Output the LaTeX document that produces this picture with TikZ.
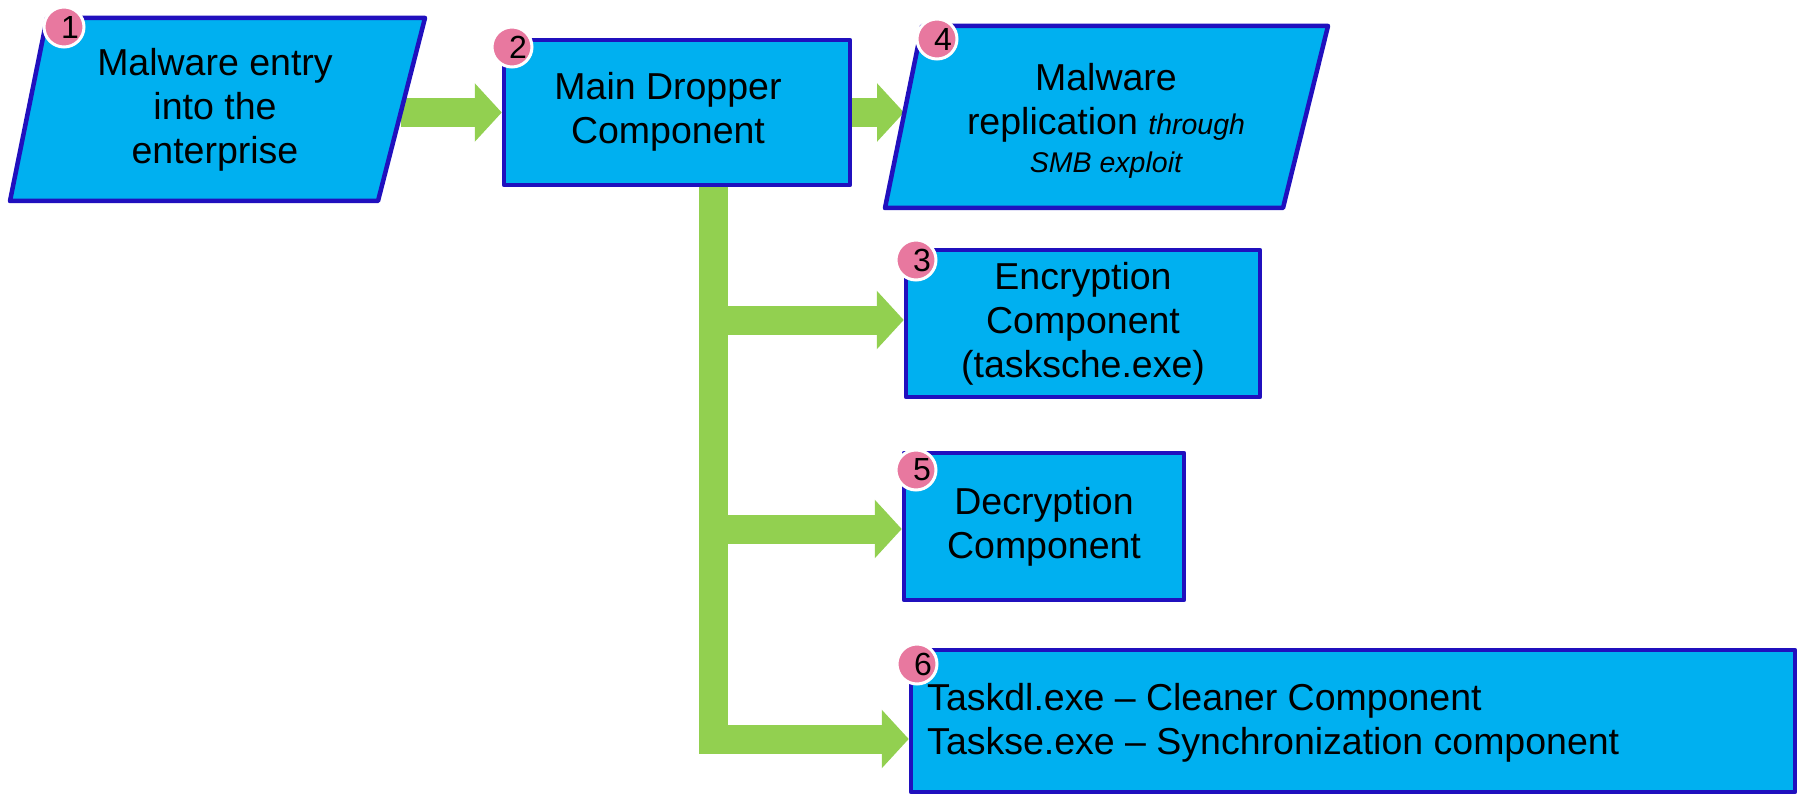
\documentclass[tikz,border=0pt]{standalone}
\usepackage{fontspec}
\setmainfont{Liberation Sans}
\usetikzlibrary{arrows.meta,backgrounds}
\definecolor{boxfill}{HTML}{00B0F0}
\definecolor{boxline}{HTML}{2010BE}
\definecolor{flow}{HTML}{92D050}
\definecolor{badgepink}{HTML}{E8789F}

\begin{document}
\begin{tikzpicture}[x=1pt,y=-1pt,
  shapebox/.style={draw=boxline,fill=boxfill,line width=4.5pt,line join=round},
  box/.style={shapebox,rectangle,inner sep=0pt,align=center,
    font=\fontsize{37.5}{44}\selectfont},
  label text/.style={inner sep=0pt,align=center,font=\fontsize{37.5}{44}\selectfont},
  flowarrow/.style={draw=flow,line width=29pt,line join=miter,
    -{Triangle[length=27pt,width=57pt]}},
  badge/.style={circle,fill=badgepink,draw=white,line width=3pt,
    minimum size=40pt,inner sep=0pt},
  digit/.style={inner sep=0pt,font=\fontsize{32}{32}\selectfont},
]
\useasboundingbox (0,0) rectangle (1798,794);

% step 1: parallelogram
\draw[shapebox] (47,18) -- (425,18) -- (378,201) -- (10,201) -- cycle;
\node[label text] (b1) at (215,110) {Malware entry\\into the\\enterprise};
\coordinate (b1e) at (401,112.5);

% step 2
\node[box,minimum width=346pt,minimum height=145pt] (b2) at (677,112.5) {};
\node[label text] (b2t) at (668,112) {Main Dropper\\Component};

% step 4: parallelogram
\draw[shapebox] (922,26) -- (1328,26) -- (1283,208) -- (885,208) -- cycle;
\node[label text] (b4) at (1106,121)
  {Malware\\replication {\fontsize{28.5}{34}\itshape through}\\[-6pt]
   {\fontsize{28.5}{34}\itshape SMB exploit}};
\coordinate (b4w) at (904,112.5);

% steps 3, 5, 6
\node[box,minimum width=354pt,minimum height=147pt] (b3) at (1083,323.5)
  {Encryption\\Component\\(tasksche.exe)};
\node[box,minimum width=280pt,minimum height=147pt] (b5) at (1044,526.5)
  {Decryption\\Component};
\node[box,minimum width=884pt,minimum height=142pt] (b6) at (1353,721) {};
\node[label text,align=left,anchor=west] (b6t) at (927,722.5)
  {Taskdl.exe -- Cleaner Component\\Taskse.exe -- Synchronization component};

% numbered badges
\node[badge] (n1) at (64,27) {};
\node[digit] (d1) at ([xshift=6pt]n1.center) {1};
\node[badge] (n2) at (512,47) {};
\node[digit] (d2) at ([xshift=6pt]n2.center) {2};
\node[badge] (n4) at (937,39) {};
\node[digit] (d4) at ([xshift=6pt]n4.center) {4};
\node[badge] (n3) at (916,260) {};
\node[digit] (d3) at ([xshift=6pt]n3.center) {3};
\node[badge] (n5) at (916,470) {};
\node[digit] (d5) at ([xshift=6pt]n5.center) {5};
\node[badge] (n6) at (917,664) {};
\node[digit] (d6) at ([xshift=6pt]n6.center) {6};

% green flow arrows behind the boxes
\coordinate (trunk) at (713,185);
\coordinate (e3) at ([yshift=3.5pt]b3.west);
\coordinate (e5) at ([yshift=-2.5pt]b5.west);
\coordinate (e6) at ([yshift=-18pt]b6.west);
\begin{pgfonlayer}{background}
  \draw[flowarrow] (b1e) -- (b2.west);
  \draw[flowarrow] (b2.east) -- (b4w);
  \draw[flowarrow] (trunk) |- (e6);
  \draw[flowarrow] (trunk |- e3) -- (e3);
  \draw[flowarrow] (trunk |- e5) -- (e5);
\end{pgfonlayer}
\end{tikzpicture}
\end{document}
